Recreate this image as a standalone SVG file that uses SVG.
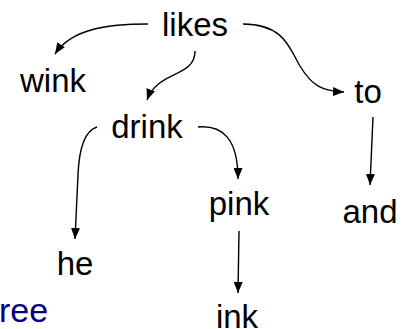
<svg xmlns="http://www.w3.org/2000/svg" width="408" height="329" viewBox="0 0 408 329">
  <style>
    .lbl { font-family: "Liberation Sans", Arial, sans-serif; font-size: 33px; fill: #000; text-anchor: middle; }
    .title { font-family: "Liberation Sans", Arial, sans-serif; font-size: 34px; fill: #000080; }
    .edge { fill: none; stroke: #000; stroke-width: 1.4; marker-end: url(#arrow); }
  </style>
  <defs>
    <marker id="arrow" markerUnits="userSpaceOnUse" markerWidth="11" markerHeight="9" viewBox="0 0 11 9" refX="11" refY="4.5" orient="auto">
      <path d="M0,0 L11,4.5 L0,9 Z" fill="#000"/>
    </marker>
  </defs>
  <rect width="408" height="329" fill="#fff"/>

  <g id="edges">
    <path class="edge" d="M148,24 C110,24 72,28 55,54"/>
    <path class="edge" d="M195,51 C195,78 158,70 147,100"/>
    <path class="edge" d="M243,24 C285,24 290,50 300,66 C312,86 322,91 344,92"/>
    <path class="edge" d="M97,127 C84,131 79,150 78,175 L75,239"/>
    <path class="edge" d="M198,127 C222,125 238,138 238,179"/>
    <path class="edge" d="M373,117 L370,185"/>
    <path class="edge" d="M239,231 L238,293"/>
  </g>

  <g id="node-likes"><text class="lbl" x="195" y="36">likes</text></g>
  <g id="node-wink"><text class="lbl" x="53" y="92">wink</text></g>
  <g id="node-to"><text class="lbl" x="368" y="103">to</text></g>
  <g id="node-drink"><text class="lbl" x="147" y="138">drink</text></g>
  <g id="node-pink"><text class="lbl" x="239" y="215">pink</text></g>
  <g id="node-and"><text class="lbl" x="370" y="223">and</text></g>
  <g id="node-he"><text class="lbl" x="75" y="275">he</text></g>
  <g id="node-ink"><text class="lbl" x="237" y="328">ink</text></g>
  <g id="caption"><text class="title" x="-1" y="322">ree</text></g>
</svg>
